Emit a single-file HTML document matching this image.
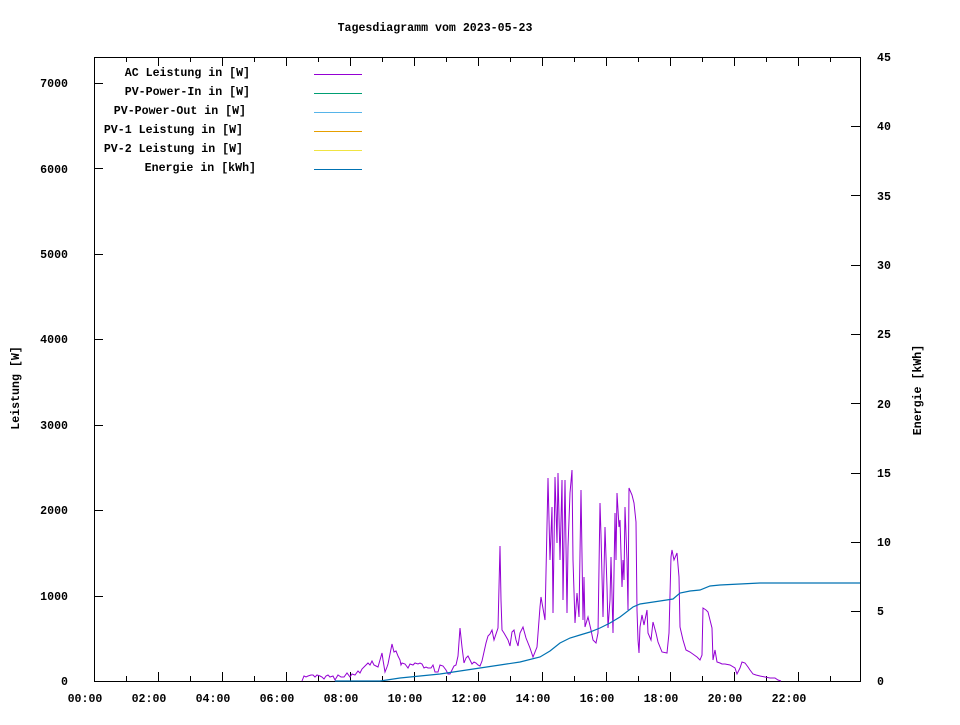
<!DOCTYPE html>
<html><head><meta charset="utf-8"><style>
body{margin:0;background:#fff}
svg text{font-family:"Liberation Mono",monospace;font-size:11.6px;font-weight:bold;fill:#000}
</style></head><body>
<svg width="960" height="720" viewBox="0 0 960 720" xmlns="http://www.w3.org/2000/svg">
<text x="435" y="31" text-anchor="middle">Tagesdiagramm vom 2023-05-23</text>
<g shape-rendering="crispEdges">
<rect x="94.5" y="57.5" width="766" height="624" fill="none" stroke="#000" stroke-width="1"/>
<g stroke="#000" stroke-width="1">
<path d="M94 681.5h9M94 596.5h9M94 510.5h9M94 425.5h9M94 339.5h9M94 254.5h9M94 168.5h9M94 83.5h9"/>
<path d="M860 681.5h-9M860 611.5h-9M860 542.5h-9M860 473.5h-9M860 403.5h-9M860 334.5h-9M860 265.5h-9M860 195.5h-9M860 126.5h-9M860 57.5h-9"/>
<path d="M158.5 681v-9M222.5 681v-9M286.5 681v-9M350.5 681v-9M414.5 681v-9M478.5 681v-9M542.5 681v-9M606.5 681v-9M670.5 681v-9M734.5 681v-9M798.5 681v-9
M126.5 681v-5M190.5 681v-5M254.5 681v-5M318.5 681v-5M382.5 681v-5M446.5 681v-5M510.5 681v-5M574.5 681v-5M638.5 681v-5M702.5 681v-5M766.5 681v-5M830.5 681v-5
M158.5 57v9M222.5 57v9M286.5 57v9M350.5 57v9M414.5 57v9M478.5 57v9M542.5 57v9M606.5 57v9M670.5 57v9M734.5 57v9M798.5 57v9
M126.5 57v5M190.5 57v5M254.5 57v5M318.5 57v5M382.5 57v5M446.5 57v5M510.5 57v5M574.5 57v5M638.5 57v5M702.5 57v5M766.5 57v5M830.5 57v5"/>
</g>
<g stroke-width="1">
<path d="M314 74.5h48" stroke="#9400d3"/>
<path d="M314 93.5h48" stroke="#009e73"/>
<path d="M314 112.5h48" stroke="#56b4e9"/>
<path d="M314 131.5h48" stroke="#e69f00"/>
<path d="M314 150.5h48" stroke="#f0e442"/>
<path d="M314 169.5h48" stroke="#0072b2"/>
</g>
</g>
<g text-anchor="end">
<text x="68" y="685">0</text><text x="68" y="600">1000</text><text x="68" y="514">2000</text><text x="68" y="429">3000</text><text x="68" y="343">4000</text><text x="68" y="258">5000</text><text x="68" y="173">6000</text><text x="68" y="87">7000</text>
</g>
<g>
<text x="877" y="685">0</text><text x="877" y="615">5</text><text x="877" y="546">10</text><text x="877" y="477">15</text><text x="877" y="408">20</text><text x="877" y="338">25</text><text x="877" y="269">30</text><text x="877" y="200">35</text><text x="877" y="130">40</text><text x="877" y="61">45</text>
</g>
<g text-anchor="middle">
<text x="85" y="702">00:00</text><text x="149" y="702">02:00</text><text x="213" y="702">04:00</text><text x="277" y="702">06:00</text><text x="341" y="702">08:00</text><text x="405" y="702">10:00</text><text x="469" y="702">12:00</text><text x="533" y="702">14:00</text><text x="597" y="702">16:00</text><text x="661" y="702">18:00</text><text x="725" y="702">20:00</text><text x="789" y="702">22:00</text>
</g>
<text transform="translate(19,388) rotate(-90)" text-anchor="middle">Leistung [W]</text>
<text transform="translate(921,390) rotate(-90)" text-anchor="middle">Energie [kWh]</text>
<g text-anchor="end">
<text x="250" y="76">AC Leistung in [W]</text>
<text x="250" y="95">PV-Power-In in [W]</text>
<text x="246" y="114">PV-Power-Out in [W]</text>
<text x="243" y="133">PV-1 Leistung in [W]</text>
<text x="243" y="152">PV-2 Leistung in [W]</text>
<text x="256" y="171">Energie in [kWh]</text>
</g>
<polyline fill="none" stroke="#9400d3" stroke-width="1" points="302,681 304,676 306,677 308,676 311,675 313,675 315,677 317,675 320,676 322,677 324,679 326,676 328,675 330,677 333,676 335,680 338,675 341,677 344,677 347,673 350,677 352,674 355,675 358,671 360,673 362,669 365,666 368,663 370,665 372,661 374,665 376,666 378,667 380,660 382,653 383,660 385,672 387,667 388,664 390,654 392,644 394,652 396,651 398,656 400,660 401,665 402,663 405,664 408,668 410,664 413,665 415,663 418,664 420,663 422,664 424,668 426,667 428,668 431,668 433,665 435,672 438,672 440,665 443,666 446,670 448,674 450,674 452,670 454,666 456,665 458,656 460,628 462,647 464,663 466,658 468,656 470,660 472,664 474,662 476,663 478,665 480,666 482,661 484,652 486,643 488,636 490,634 492,630 494,640 498,628 500,546 501,600 502,630 504,633 508,640 510,646 512,632 514,630 516,640 518,646 520,633 523,627 526,638 530,648 533,657 537,647 540,607 541,597 545,620 548,478 550,560 552,507 553,613 555,477 557,543 558,473 560,560 562,480 563,600 565,480 567,613 568,547 570,493 572,470 573,560 575,623 577,593 579,617 581,490 583,620 584,577 585,627 588,617 591,630 593,640 596,643 598,633 600,503 601,535 603,617 605,527 607,587 608,628 610,600 611,557 613,633 615,513 616,560 617,493 619,527 620,520 622,587 623,560 624,580 625,507 627,560 628,610 629,488 632,495 634,503 636,522 637,610 638,640 639,653 640,627 642,615 644,625 647,610 648,633 651,640 653,622 656,633 658,642 662,652 667,653 669,633 671,557 672,550 674,560 677,553 679,577 680,627 683,640 686,650 690,652 697,657 700,660 702,655 703,608 706,610 708,612 710,620 712,628 713,660 715,650 717,662 720,663 722,664 725,664 730,665 735,668 737,674 740,668 742,662 745,663 748,667 750,670 753,674 756,675 760,676 765,677 770,678 775,678 778,680 781,681"/>
<polyline fill="none" stroke="#0072b2" stroke-width="1.2" points="335,681 380,681 400,678 420,676 440,674 460,671 480,668 500,665 520,662 540,657 550,651 560,643 570,638 580,635 590,632 600,628 610,623 620,617 633,607 640,604 660,601 673,599 680,593 690,591 700,590 710,586 720,585 740,584 760,583 860,583"/>
</svg>
</body></html>
